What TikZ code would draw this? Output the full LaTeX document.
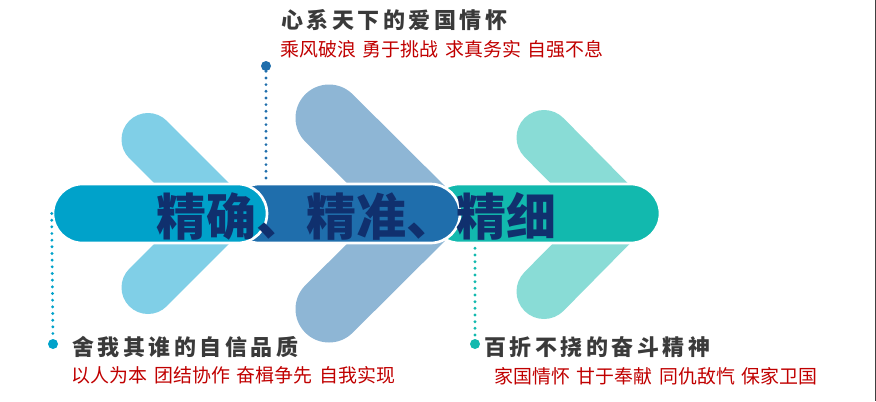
\documentclass[tikz,border=0pt]{standalone}
\usepackage{fontspec}
\setmainfont{Noto Sans CJK SC}
\usetikzlibrary{shapes.misc}
\definecolor{pillcyan}{HTML}{00A2CA}
\definecolor{pillblue}{HTML}{1F6EAC}
\definecolor{pillteal}{HTML}{12B9AE}
\definecolor{chevcyan}{HTML}{80CFE7}
\definecolor{chevblue}{HTML}{8EB6D5}
\definecolor{chevteal}{HTML}{89DCD6}
\definecolor{titlenavy}{HTML}{10306E}
\definecolor{headgray}{HTML}{3A3A3A}
\definecolor{mottored}{HTML}{C00000}
\newcommand{\wordgap}{\hspace{0.36em}}

\begin{document}
\begin{tikzpicture}[x=0.75pt, y=-0.75pt,
    chevron/.style={line cap=round, line join=round},
    pill/.style={rounded rectangle, draw=white, line width=2pt, minimum height=44.25pt, inner sep=0pt},
    dot/.style={circle, inner sep=0pt, minimum size=7.5pt},
    guide/.style={line width=2.4pt, line cap=round, dash pattern=on 0pt off 5pt},
    heading/.style={anchor=west, inner sep=0pt, text=headgray, font=\fontsize{16.5}{19}\selectfont\bfseries\addfontfeature{LetterSpace=16}},
    motto/.style={anchor=west, inner sep=0pt, text=mottored, font=\fontsize{14.2}{17}\selectfont}]
  \useasboundingbox (0,0) rectangle (876,401);

  % Chevrons behind the bar
  \draw[chevron, chevcyan, line width=39.75pt] (148,139.5) -- (222,213.5) -- (148,287.5);
  \draw[chevron, chevblue, line width=50.25pt] (329,118) -- (425,213.5) -- (329,309);
  \draw[chevron, chevteal, line width=41.25pt] (544,137.5) -- (620,214.5) -- (544,291.5);

  % Bar, back to front
  \node[pill, fill=pillteal, minimum width=172.5pt] (pillC) at (545,213.5) {};
  \node[pill, fill=pillblue, minimum width=172.5pt] (pillB) at (345,213.5) {};
  \node[pill, fill=pillcyan, minimum width=160.5pt] (pillA) at (160,213.5) {};

  % Title
  \node[anchor=west, inner sep=0pt, text=titlenavy, font=\fontsize{37.5}{40}\selectfont\bfseries] (title) at (156,216.5) {精确、精准、精细};

  % Top label
  \node[dot, fill=pillblue] (topdot) at (266,66) {};
  \draw[guide, pillblue] (topdot) -- ([yshift=3pt]pillB.north -| topdot);
  \node[heading] (tophead) at (281,20) {心系天下的爱国情怀};
  \node[motto] (topmotto) at (280,49) {乘风破浪\wordgap 勇于挑战\wordgap 求真务实\wordgap 自强不息};

  % Left label
  \node[dot, fill=pillcyan] (leftdot) at (53,344) {};
  \draw[guide, pillcyan] (pillA.west) -- (leftdot);
  \node[heading] (lefthead) at (72,346.7) {舍我其谁的自信品质};
  \node[motto] (leftmotto) at (71.5,375) {以人为本\wordgap 团结协作\wordgap 奋楫争先\wordgap 自我实现};

  % Right label
  \node[dot, fill=pillteal] (rightdot) at (475,344) {};
  \draw[guide, pillteal] ([yshift=-3pt]pillC.south -| rightdot) -- (rightdot);
  \node[heading] (righthead) at (484,346.7) {百折不挠的奋斗精神};
  \node[motto] (rightmotto) at (494,376) {家国情怀\wordgap 甘于奉献\wordgap 同仇敌忾\wordgap 保家卫国};

  % Right edge
  \draw[black!75, line width=0.75pt] (875.5,0) -- (875.5,401);
\end{tikzpicture}
\end{document}
